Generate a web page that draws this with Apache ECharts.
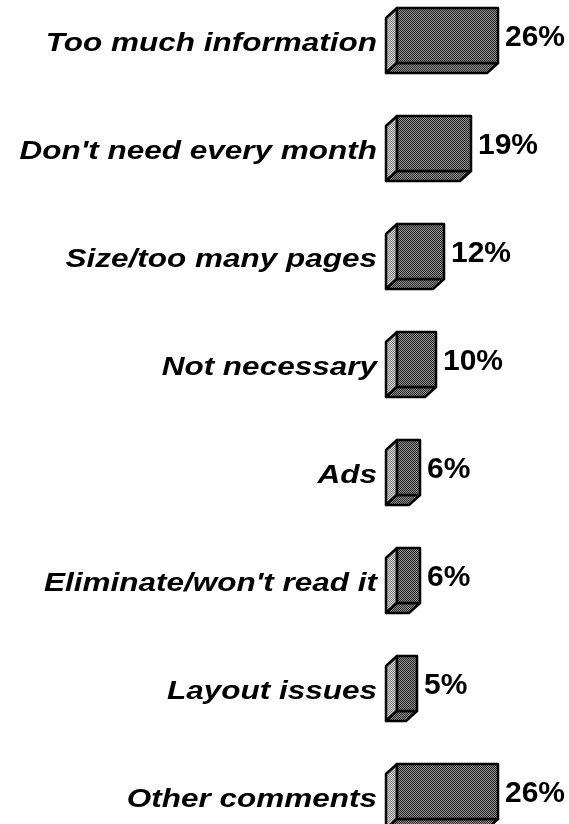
<!DOCTYPE html>
<html>
<head>
<meta charset="utf-8">
<style>
  html, body { margin: 0; padding: 0; background: #ffffff; }
  #chart { width: 569px; height: 824px; }
</style>
<script src="https://cdn.jsdelivr.net/npm/echarts@6/dist/echarts.min.js"></script>
</head>
<body>
<div id="chart"></div>
<script>
// Reasons given, share of responses (%)
const categories = [
  'Too much information',
  "Don't need every month",
  'Size/too many pages',
  'Not necessary',
  'Ads',
  "Eliminate/won't read it",
  'Layout issues',
  'Other comments'
];
const values = [26, 19, 12, 10, 6, 6, 5, 26];
const valueLabels = ['26%', '19%', '12%', '10%', '6%', '6%', '5%', '26%'];

// 2x2 dithered fill, like an old halftone print
function dither(a, b) {
  const c = document.createElement('canvas');
  c.width = 2; c.height = 2;
  const g = c.getContext('2d');
  g.fillStyle = a; g.fillRect(0, 0, 1, 1); g.fillRect(1, 1, 1, 1);
  g.fillStyle = b; g.fillRect(1, 0, 1, 1); g.fillRect(0, 1, 1, 1);
  return { image: c, repeat: 'repeat' };
}
const frontFill = dither('#222222', '#959595');
const sideFill = dither('#7c7c7c', '#d6d6d6');
const bottomFill = dither('#2a2a2a', '#909090');

const FACE_H = 55;      // front face height
const DX = -11, DY = 10; // depth offset of the box

const chart = echarts.init(document.getElementById('chart'), null, { renderer: 'canvas' });

chart.setOption({
  animation: false,
  backgroundColor: '#ffffff',
  grid: { left: 397, right: 16, top: 0, bottom: 0 },
  xAxis: { type: 'value', min: 0, max: 40, show: false },
  // row positions: row i sits at value i, rows run top to bottom
  yAxis: { type: 'value', min: -0.375, max: 7.255, inverse: true, show: false },
  series: [{
    type: 'custom',
    clip: false,
    encode: { x: 0, y: 1 },
    data: values.map((v, i) => [v, i]),
    renderItem: function (params, api) {
      const idx = api.value(1);
      const v = api.value(0);
      const p0 = api.coord([0, idx]);
      const p1 = api.coord([v, idx]);
      const x0 = Math.round(p0[0]), x1 = Math.round(p1[0]);
      const cy = p0[1];
      const top = Math.round(cy - 32.5);
      const bot = top + FACE_H;
      const stroke = { stroke: '#000000', lineWidth: 2.5, lineJoin: 'round' };
      return {
        type: 'group',
        children: [
          {
            type: 'polygon',
            shape: { points: [[x0, top], [x0 + DX, top + DY], [x0 + DX, bot + DY], [x0, bot]] },
            style: Object.assign({ fill: sideFill }, stroke)
          },
          {
            type: 'polygon',
            shape: { points: [[x0, bot], [x0 + DX, bot + DY], [x1 + DX, bot + DY], [x1, bot]] },
            style: Object.assign({ fill: bottomFill }, stroke)
          },
          {
            type: 'rect',
            shape: { x: x0, y: top, width: x1 - x0, height: FACE_H },
            style: Object.assign({ fill: frontFill }, stroke)
          },
          {
            type: 'text',
            x: x0 - 20,
            y: cy + 4,
            scaleX: 1.26,
            style: {
              text: categories[idx],
              x: 0, y: 0,
              align: 'right',
              verticalAlign: 'middle',
              fill: '#000000',
              font: 'italic bold 25px "Liberation Sans", Arial, sans-serif'
            }
          },
          {
            type: 'text',
            x: x1 + 7,
            y: cy - 3,
            style: {
              text: valueLabels[idx],
              x: 0, y: 0,
              align: 'left',
              verticalAlign: 'middle',
              fill: '#000000',
              font: 'bold 30px "Liberation Sans", Arial, sans-serif'
            }
          }
        ]
      };
    }
  }]
});
</script>
</body>
</html>
